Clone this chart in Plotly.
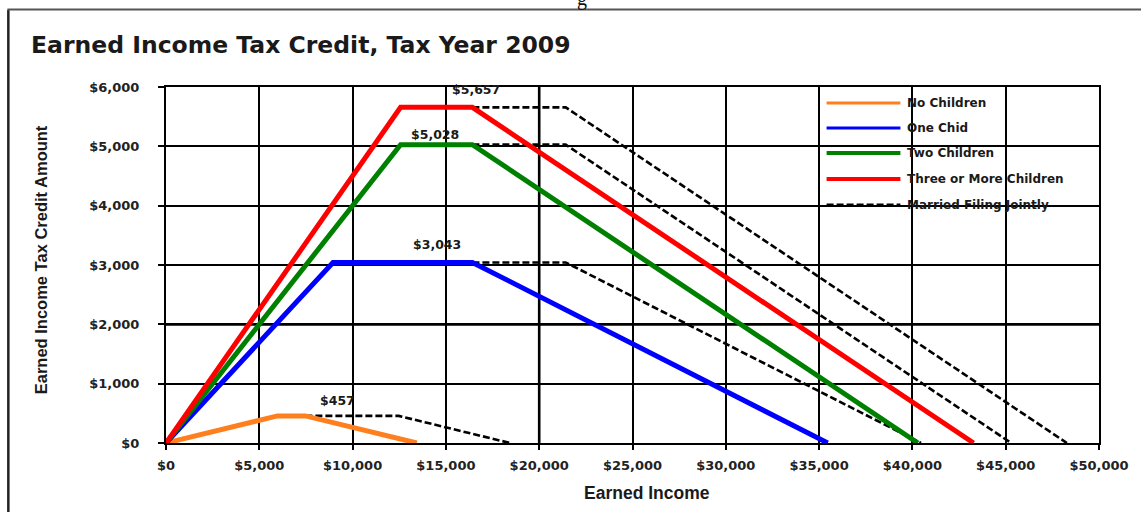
import plotly.graph_objects as go

# ---------------- data ----------------
series_names = ["No Children", "One Chid", "Two Children", "Three or More Children"]
series_colors = ["#FF7F1E", "#0000FF", "#008000", "#FF0000"]

no_children_x = [0, 5970, 7470, 13440]
no_children_y = [0, 457, 457, 0]
one_child_x = [0, 8950, 16420, 35463]
one_child_y = [0, 3043, 3043, 0]
two_children_x = [0, 12570, 16420, 40295]
two_children_y = [0, 5028, 5028, 0]
three_children_x = [0, 12570, 16420, 43279]
three_children_y = [0, 5657, 5657, 0]

mfj_name = "Married Filing Jointly"
mfj_no_children_x = [7470, 12470, 18440]
mfj_no_children_y = [457, 457, 0]
mfj_one_child_x = [16420, 21420, 40463]
mfj_one_child_y = [3043, 3043, 0]
mfj_two_children_x = [16420, 21420, 45295]
mfj_two_children_y = [5028, 5028, 0]
mfj_three_children_x = [16420, 21420, 48279]
mfj_three_children_y = [5657, 5657, 0]

max_credit_labels = ["$457", "$3,043", "$5,028", "$5,657"]
label_x = [9200, 14500, 14400, 16600]
label_y = [710, 3350, 5200, 5950]

x_tick_vals = [0, 5000, 10000, 15000, 20000, 25000, 30000, 35000, 40000, 45000, 50000]
x_tick_text = ["$0", "$5,000", "$10,000", "$15,000", "$20,000", "$25,000",
               "$30,000", "$35,000", "$40,000", "$45,000", "$50,000"]
y_tick_vals = [0, 1000, 2000, 3000, 4000, 5000, 6000]
y_tick_text = ["$0", "$1,000", "$2,000", "$3,000", "$4,000", "$5,000", "$6,000"]

# ---------------- layout geometry (pixels) ----------------
W, H = 1141, 512
L, R, T, B = 166, 1101, 87, 443


def px(xp):
    return (xp - L) / (R - L)


def py(yp):
    return (B - yp) / (B - T)


FONT_BOLD = "DejaVu Sans"
TXT = "#1a1a1a"

fig = go.Figure()

# married filing jointly dashed lines (drawn underneath)
for xs, ys in [(mfj_no_children_x, mfj_no_children_y),
               (mfj_one_child_x, mfj_one_child_y),
               (mfj_two_children_x, mfj_two_children_y),
               (mfj_three_children_x, mfj_three_children_y)]:
    fig.add_trace(go.Scatter(x=xs, y=ys, mode="lines", name=mfj_name,
                             line=dict(color="black", width=2.6, dash="7px,3px"),
                             showlegend=False, hoverinfo="skip"))

series_x = [no_children_x, one_child_x, two_children_x, three_children_x]
series_y = [no_children_y, one_child_y, two_children_y, three_children_y]
for name, color, xs, ys in zip(series_names, series_colors, series_x, series_y):
    fig.add_trace(go.Scatter(x=xs, y=ys, mode="lines", name=name,
                             line=dict(color=color, width=5),
                             showlegend=False))

shapes = []
annotations = []

# thicker grid lines
shapes.append(dict(type="line", xref="x", yref="paper", x0=20000, x1=20000, y0=0, y1=1,
                   line=dict(color="black", width=2.6), layer="below"))
shapes.append(dict(type="line", xref="paper", yref="y", x0=0, x1=1, y0=2000, y1=2000,
                   line=dict(color="black", width=2.6), layer="below"))

# outer frame (left + top)
shapes.append(dict(type="line", xref="paper", yref="paper",
                   x0=px(8), x1=px(8), y0=py(10), y1=py(520),
                   line=dict(color="#222", width=2.5)))
shapes.append(dict(type="line", xref="paper", yref="paper",
                   x0=px(7), x1=px(1145), y0=py(9.5), y1=py(9.5),
                   line=dict(color="#555", width=2)))

# manual legend
legend_names = series_names + [mfj_name]
legend_colors = series_colors + ["black"]
legend_y = [103, 128, 153, 179, 205]
for i, (name, color, yy) in enumerate(zip(legend_names, legend_colors, legend_y)):
    is_mfj = i == len(legend_names) - 1
    shapes.append(dict(type="line", xref="paper", yref="paper",
                       x0=px(828), x1=px(902), y0=py(yy), y1=py(yy),
                       line=dict(color=color, width=3 if is_mfj else (4 if i >= 2 else 3.2),
                                 dash="7px,3px" if is_mfj else "solid")))
    annotations.append(dict(xref="paper", yref="paper", x=px(907), y=py(yy),
                            text=name, showarrow=False, xanchor="left", yanchor="middle",
                            font=dict(family=FONT_BOLD, size=12, color=TXT, weight="bold")))

# value labels
for t, xv, yv in zip(max_credit_labels, label_x, label_y):
    annotations.append(dict(x=xv, y=yv, xref="x", yref="y", text=t, showarrow=False,
                            xanchor="center", yanchor="middle",
                            font=dict(family=FONT_BOLD, size=12.5, color=TXT, weight="bold")))

# title
annotations.append(dict(xref="paper", yref="paper", x=px(29), y=py(45),
                        text="Earned Income Tax Credit, Tax Year 2009", showarrow=False,
                        xanchor="left", yanchor="middle",
                        font=dict(family=FONT_BOLD, size=23.5, color=TXT, weight="bold")))
# axis titles
annotations.append(dict(xref="paper", yref="paper", x=px(41), y=py(260),
                        text="Earned Income Tax Credit Amount", showarrow=False, textangle=-90,
                        xanchor="center", yanchor="middle",
                        font=dict(family="Liberation Sans", size=16.5, color=TXT, weight="bold")))
annotations.append(dict(xref="paper", yref="paper", x=px(648), y=py(493),
                        text="Earned Income", showarrow=False,
                        xanchor="center", yanchor="middle",
                        font=dict(family="Liberation Sans", size=17.5, color=TXT, weight="bold")))
# cut-off caption fragment at the very top
annotations.append(dict(xref="paper", yref="paper", x=px(583), y=py(12),
                        text="g", showarrow=False, xanchor="center", yanchor="bottom",
                        font=dict(family="Liberation Serif", size=20, color="#111")))

tick_font = dict(family=FONT_BOLD, size=13, color="#222", weight="bold")

fig.update_layout(
    width=W, height=H,
    margin=dict(l=L, r=W - R, t=T, b=H - B, pad=0),
    paper_bgcolor="white", plot_bgcolor="white",
    showlegend=False,
    shapes=shapes, annotations=annotations,
    xaxis=dict(range=[0, 50000], tickmode="array", tickvals=x_tick_vals, ticktext=x_tick_text,
               showgrid=True, gridcolor="black", gridwidth=1.5,
               showline=True, linecolor="black", linewidth=2, mirror=True,
               ticks="outside", ticklen=5, tickcolor="black", tickwidth=1.5,
               tickfont=tick_font, zeroline=False, fixedrange=True,
               ticklabelstandoff=4),
    yaxis=dict(range=[0, 6000], tickmode="array", tickvals=y_tick_vals, ticktext=y_tick_text,
               showgrid=True, gridcolor="black", gridwidth=1.5,
               showline=True, linecolor="black", linewidth=2, mirror=True,
               ticks="outside", ticklen=6, tickcolor="black", tickwidth=1.5,
               tickfont=tick_font, zeroline=False, fixedrange=True,
               ticklabelstandoff=16),
)

fig.write_html("out.html",
               config={"displayModeBar": False, "staticPlot": False},
               post_script="document.body.style.margin='0';document.body.style.padding='0';")
